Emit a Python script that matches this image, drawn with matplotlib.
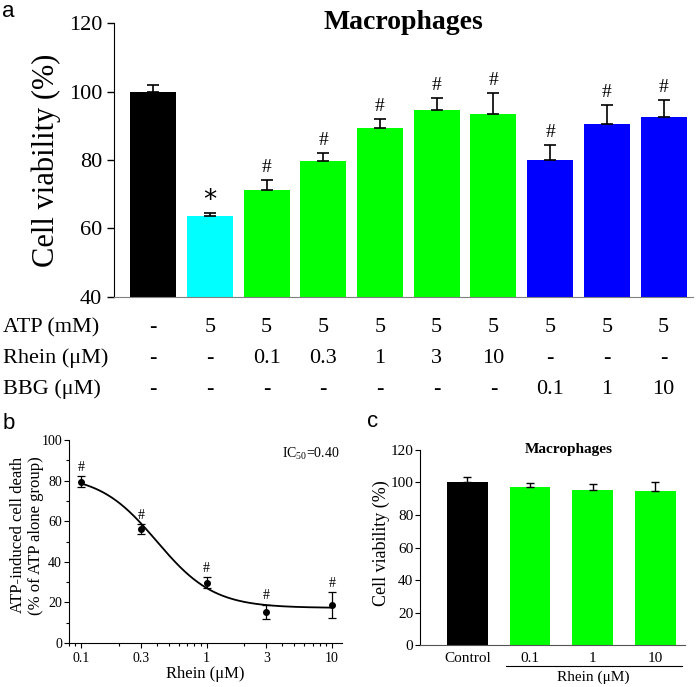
import numpy as np
import matplotlib
matplotlib.use("Agg")
import matplotlib.pyplot as plt
from matplotlib.transforms import blended_transform_factory
from matplotlib.ticker import FixedLocator, NullFormatter, LogLocator

plt.rcParams['font.family'] = ['Liberation Serif', 'DejaVu Serif']
plt.rcParams['mathtext.fontset'] = 'custom'
plt.rcParams['mathtext.rm'] = 'Liberation Serif'
plt.rcParams['mathtext.it'] = 'Liberation Serif:italic'

# ---------------- data ----------------
# Panel a
a_values = [100.0, 63.6, 71.1, 79.8, 89.3, 94.6, 93.3, 80.1, 90.4, 92.6]
a_errors = [2.0, 0.8, 3.1, 2.3, 2.7, 3.4, 6.2, 4.3, 5.6, 5.0]
a_colors = ['#000000', '#00FFFF', '#00FF00', '#00FF00', '#00FF00', '#00FF00',
            '#00FF00', '#0000FF', '#0000FF', '#0000FF']
a_marks = ['', '*', '#', '#', '#', '#', '#', '#', '#', '#']
row_labels = ['ATP (mM)', 'Rhein (\u03bcM)', 'BBG (\u03bcM)']
row_atp = ['-', '5', '5', '5', '5', '5', '5', '5', '5', '5']
row_rhein = ['-', '-', '0.1', '0.3', '1', '3', '10', '-', '-', '-']
row_bbg = ['-', '-', '-', '-', '-', '-', '-', '0.1', '1', '10']

# Panel b
b_conc = [0.1, 0.3, 1.0, 3.0, 10.0]
b_values = [79.5, 56.0, 29.8, 15.3, 18.7]
b_errors = [2.6, 2.4, 2.5, 3.5, 6.2]
b_tick_labels = ['0.1', '0.3', '1', '3', '10']
fit_top, fit_bottom, fit_ic50, fit_hill = 83.0, 17.3, 0.40, 1.9

# Panel c
c_labels = ['Control', '0.1', '1', '10']
c_values = [100.2, 97.0, 95.6, 94.8]
c_errors = [3.4, 2.5, 3.7, 5.3]
c_colors = ['#000000', '#00FF00', '#00FF00', '#00FF00']

# ---------------- figure ----------------
fig = plt.figure(figsize=(6.97, 6.87), dpi=100)

# ===== Panel a =====
axa = fig.add_axes([0.1636, 0.5677, 0.8307, 0.3988])
xa = np.arange(len(a_values))
axa.bar(xa, a_values, width=0.81, color=a_colors, bottom=0, zorder=2)
axa.errorbar(xa, a_values, yerr=[np.zeros(len(a_errors)), a_errors], fmt='none',
             ecolor='black', elinewidth=1.2, capsize=4, capthick=1.2, zorder=3)
for xi, v, e, m in zip(xa, a_values, a_errors, a_marks):
    if m == '*':
        axa.annotate(m, (xi, v + e), xytext=(0, 9), textcoords='offset points',
                     ha='center', va='center', fontsize=19, fontfamily='DejaVu Sans')
    elif m:
        axa.annotate(m, (xi, v + e), xytext=(0, 3), textcoords='offset points',
                     ha='center', va='bottom', fontsize=14)
axa.set_ylim(40, 120)
axa.set_xlim(-0.69, 9.52)
axa.set_yticks([40, 60, 80, 100, 120])
axa.set_xticks([])
axa.tick_params(axis='y', labelsize=16, direction='out', length=5, width=1)
axa.spines['top'].set_visible(False)
axa.spines['right'].set_visible(False)
axa.spines['bottom'].set_color('#808080')
axa.set_ylabel('Cell viability (%)', fontsize=22, labelpad=6)
axa.text(0.5, 118.3, 'Macrophages', transform=blended_transform_factory(axa.transAxes, axa.transData),
         fontsize=20, fontweight='bold', ha='center', va='baseline', clip_on=False)

trans = blended_transform_factory(axa.transData, fig.transFigure)
row_y = [1 - 332 / 687, 1 - 363 / 687, 1 - 394 / 687]
for label, vals, y in zip(row_labels, [row_atp, row_rhein, row_bbg], row_y):
    fig.text(3 / 697, y, label, fontsize=16, ha='left', va='baseline')
    for xi, s in zip(xa, vals):
        axa.text(xi, y, s, transform=trans, fontsize=16, ha='center', va='baseline')

fig.text(2 / 697, 1 - 17 / 687, 'a', fontsize=16, fontfamily='Liberation Sans',
         ha='left', va='baseline')

# ===== Panel b =====
axb = fig.add_axes([0.099, 0.064, 0.3917, 0.2955])
axb.errorbar(b_conc, b_values, yerr=b_errors, fmt='o', color='black', ms=4,
             ecolor='black', elinewidth=0.9, capsize=3, capthick=0.9, zorder=3)
xc = np.logspace(-1, 1, 300)
yc = fit_bottom + (fit_top - fit_bottom) / (1 + (xc / fit_ic50) ** fit_hill)
axb.plot(xc, yc, color='black', lw=1.3, zorder=2)
for c, v, e in zip(b_conc, b_values, b_errors):
    axb.annotate('#', (c, v + e), xytext=(0, 2), textcoords='offset points',
                 ha='center', va='bottom', fontsize=10)
axb.set_xscale('log')
axb.set_xlim(0.080, 12.0)
axb.set_ylim(0, 100)
axb.set_xticks(b_conc)
axb.set_xticklabels(b_tick_labels)
axb.xaxis.set_minor_locator(LogLocator(base=10, subs=np.arange(2, 10)))
axb.xaxis.set_minor_formatter(NullFormatter())
axb.set_yticks([0, 20, 40, 60, 80, 100])
axb.yaxis.set_minor_locator(FixedLocator([10, 30, 50, 70, 90]))
axb.tick_params(which='both', direction='out', labelsize=10, width=0.8, pad=1.5)
axb.tick_params(which='major', length=3.5)
axb.tick_params(which='minor', length=2)
axb.tick_params(axis='x', pad=3)
axb.spines['top'].set_visible(False)
axb.spines['right'].set_visible(False)
axb.set_xlabel('Rhein (\u03bcM)', fontsize=12, labelpad=1)
axb.set_ylabel('ATP-induced cell death\n(% of ATP alone group)', fontsize=12,
               linespacing=1.15)
axb.yaxis.set_label_coords(-0.092, 0.53)
axb.text(0.99, 0.97, r'IC$_{50}$=0.40', transform=axb.transAxes, fontsize=10,
         ha='right', va='top')
fig.text(3 / 697, 1 - 429 / 687, 'b', fontsize=16, fontfamily='Liberation Sans',
         ha='left', va='baseline')

# ===== Panel c =====
axc = fig.add_axes([0.603, 0.0611, 0.3797, 0.2839])
xcb = np.arange(len(c_values))
axc.bar(xcb, c_values, width=0.65, color=c_colors, zorder=2)
axc.errorbar(xcb, c_values, yerr=[np.zeros(len(c_errors)), c_errors], fmt='none',
             ecolor='black', elinewidth=1.0, capsize=3, capthick=1.0, zorder=3)
axc.set_xlim(-0.75, 3.47)
axc.set_ylim(0, 120)
axc.set_yticks([0, 20, 40, 60, 80, 100, 120])
axc.set_xticks(xcb)
axc.set_xticklabels(c_labels)
axc.tick_params(axis='x', length=0, labelsize=11, pad=5)
axc.tick_params(axis='y', direction='out', labelsize=11, length=3.5, width=0.8, pad=1.5)
axc.spines['top'].set_visible(False)
axc.spines['right'].set_visible(False)
axc.spines['bottom'].set_color('#555555')
axc.set_ylabel('Cell viability (%)', fontsize=13)
axc.yaxis.set_label_coords(-0.115, 0.52)
axc.text(0.56, 0.985, 'Macrophages', transform=axc.transAxes, fontsize=11,
         fontweight='bold', ha='center', va='baseline')
transc = blended_transform_factory(axc.transData, fig.transFigure)
axc.plot([0.61, 3.42], [1 - 666 / 687, 1 - 666 / 687], transform=transc,
         color='black', lw=0.8, clip_on=False)
axc.text(2.0, 1 - 681 / 687, 'Rhein (\u03bcM)', transform=transc, fontsize=11,
         ha='center', va='baseline')
fig.text(367 / 697, 1 - 427 / 687, 'c', fontsize=16, fontfamily='Liberation Sans',
         ha='left', va='baseline')

fig.savefig('out.png', dpi=100)
